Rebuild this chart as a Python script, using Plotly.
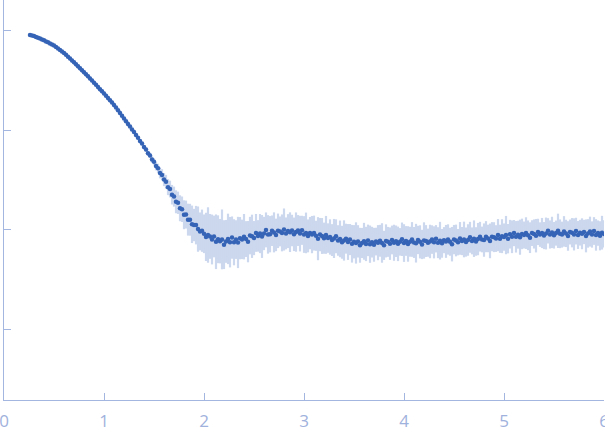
import numpy as np
import plotly.graph_objects as go

# scattering vector grid (uniform sampling, 0.02 step)
q_start = 0.26
q_step = 0.02
n_points = 288
q = np.round(q_start + q_step * np.arange(n_points), 3)

# log10 intensity
log_I = [
    -0.047, -0.052, -0.058, -0.066, -0.075, -0.083, -0.092, -0.100, -0.111, -0.121,
    -0.132, -0.142, -0.153, -0.168, -0.183, -0.198, -0.213, -0.228, -0.246, -0.265,
    -0.283, -0.302, -0.320, -0.340, -0.360, -0.380, -0.400, -0.420, -0.441, -0.462,
    -0.483, -0.504, -0.525, -0.547, -0.568, -0.590, -0.611, -0.633, -0.656, -0.679,
    -0.702, -0.725, -0.748, -0.775, -0.803, -0.830, -0.858, -0.885, -0.912, -0.939,
    -0.966, -0.994, -1.019, -1.051, -1.078, -1.111, -1.136, -1.171, -1.196, -1.233,
    -1.255, -1.297, -1.318, -1.362, -1.384, -1.430, -1.450, -1.497, -1.520, -1.573,
    -1.592, -1.649, -1.668, -1.720, -1.730, -1.785, -1.795, -1.850, -1.848, -1.899,
    -1.900, -1.946, -1.953, -1.954, -1.994, -2.017, -2.010, -2.041, -2.072, -2.053,
    -2.067, -2.098, -2.068, -2.121, -2.096, -2.115, -2.097, -2.150, -2.117, -2.092,
    -2.125, -2.079, -2.126, -2.099, -2.128, -2.085, -2.097, -2.070, -2.094, -2.120,
    -2.059, -2.066, -2.084, -2.032, -2.062, -2.039, -2.068, -2.038, -2.002, -2.047,
    -2.045, -2.010, -2.027, -2.052, -2.011, -2.017, -2.032, -1.998, -2.037, -2.014,
    -2.025, -2.008, -2.046, -2.024, -2.008, -2.039, -2.006, -2.048, -2.032, -2.062,
    -2.034, -2.049, -2.034, -2.061, -2.090, -2.049, -2.063, -2.085, -2.052, -2.084,
    -2.073, -2.104, -2.088, -2.066, -2.108, -2.092, -2.126, -2.108, -2.090, -2.123,
    -2.099, -2.141, -2.121, -2.133, -2.117, -2.156, -2.133, -2.116, -2.143, -2.107,
    -2.145, -2.125, -2.151, -2.119, -2.130, -2.111, -2.133, -2.157, -2.112, -2.122,
    -2.140, -2.103, -2.131, -2.116, -2.142, -2.122, -2.096, -2.134, -2.113, -2.143,
    -2.121, -2.098, -2.128, -2.135, -2.103, -2.122, -2.148, -2.108, -2.114, -2.130,
    -2.118, -2.099, -2.127, -2.091, -2.130, -2.110, -2.137, -2.105, -2.117, -2.098,
    -2.121, -2.145, -2.099, -2.108, -2.125, -2.087, -2.114, -2.098, -2.124, -2.103,
    -2.076, -2.112, -2.090, -2.118, -2.094, -2.070, -2.098, -2.104, -2.070, -2.088,
    -2.112, -2.070, -2.075, -2.089, -2.054, -2.091, -2.065, -2.074, -2.054, -2.090,
    -2.045, -2.071, -2.034, -2.071, -2.050, -2.075, -2.042, -2.053, -2.034, -2.056,
    -2.080, -2.034, -2.043, -2.060, -2.022, -2.049, -2.033, -2.059, -2.038, -2.011,
    -2.048, -2.027, -2.056, -2.034, -2.011, -2.041, -2.049, -2.017, -2.037, -2.063,
    -2.023, -2.030, -2.047, -2.014, -2.053, -2.030, -2.041, -2.023, -2.062, -2.037,
    -2.019, -2.048, -2.013, -2.052, -2.034, -2.061, -2.030, -2.042,
]

# uncertainty (half-width, log10 units)
log_err = [
    0.004, 0.004, 0.004, 0.004, 0.004, 0.004, 0.004, 0.004, 0.004, 0.004,
    0.004, 0.004, 0.004, 0.004, 0.004, 0.004, 0.004, 0.004, 0.004, 0.004,
    0.004, 0.004, 0.004, 0.004, 0.004, 0.004, 0.004, 0.004, 0.004, 0.004,
    0.004, 0.004, 0.004, 0.004, 0.004, 0.004, 0.004, 0.004, 0.004, 0.004,
    0.004, 0.004, 0.004, 0.004, 0.004, 0.004, 0.004, 0.004, 0.004, 0.004,
    0.005, 0.006, 0.008, 0.010, 0.012, 0.014, 0.016, 0.019, 0.022, 0.025,
    0.028, 0.034, 0.036, 0.043, 0.046, 0.055, 0.057, 0.066, 0.070, 0.080,
    0.084, 0.098, 0.100, 0.115, 0.112, 0.130, 0.128, 0.145, 0.140, 0.160,
    0.160, 0.188, 0.162, 0.193, 0.227, 0.190, 0.212, 0.194, 0.242, 0.278,
    0.225, 0.250, 0.209, 0.274, 0.240, 0.223, 0.300, 0.245, 0.215, 0.253,
    0.253, 0.212, 0.231, 0.194, 0.257, 0.212, 0.198, 0.228, 0.180, 0.207,
    0.188, 0.217, 0.171, 0.190, 0.158, 0.196, 0.215, 0.167, 0.175, 0.193,
    0.182, 0.153, 0.201, 0.163, 0.173, 0.150, 0.185, 0.211, 0.160, 0.170,
    0.199, 0.158, 0.168, 0.197, 0.155, 0.179, 0.146, 0.184, 0.204, 0.165,
    0.162, 0.187, 0.175, 0.151, 0.216, 0.167, 0.180, 0.156, 0.190, 0.148,
    0.177, 0.160, 0.196, 0.170, 0.153, 0.184, 0.165, 0.202, 0.150, 0.180,
    0.156, 0.189, 0.167, 0.207, 0.162, 0.175, 0.151, 0.185, 0.172, 0.158,
    0.187, 0.154, 0.170, 0.139, 0.176, 0.160, 0.198, 0.146, 0.166, 0.150,
    0.163, 0.144, 0.181, 0.158, 0.173, 0.138, 0.168, 0.189, 0.149, 0.178,
    0.150, 0.174, 0.155, 0.194, 0.142, 0.166, 0.147, 0.182, 0.160, 0.141,
    0.168, 0.143, 0.161, 0.137, 0.155, 0.189, 0.144, 0.131, 0.165, 0.152,
    0.140, 0.173, 0.147, 0.159, 0.132, 0.164, 0.141, 0.179, 0.146, 0.158,
    0.155, 0.135, 0.183, 0.143, 0.162, 0.149, 0.129, 0.167, 0.156, 0.138,
    0.174, 0.146, 0.150, 0.134, 0.161, 0.141, 0.170, 0.137, 0.192, 0.147,
    0.144, 0.164, 0.131, 0.158, 0.140, 0.176, 0.153, 0.135, 0.159, 0.149,
    0.154, 0.129, 0.146, 0.168, 0.132, 0.123, 0.151, 0.136, 0.160, 0.127,
    0.141, 0.157, 0.133, 0.126, 0.172, 0.144, 0.130, 0.153, 0.137, 0.148,
    0.125, 0.147, 0.161, 0.134, 0.140, 0.129, 0.155, 0.122, 0.165, 0.143,
    0.150, 0.132, 0.139, 0.158, 0.127, 0.146, 0.169, 0.136,
]

x_ticks = [0, 1, 2, 3, 4, 5, 6]

axis_col = "#a3b6df"
band_col = "#ccd8ee"
dot_col = "#3563b6"

fig = go.Figure()
fig.add_trace(go.Scatter(
    x=q, y=log_I, mode="markers",
    marker=dict(size=1, opacity=0),
    error_y=dict(type="data", array=log_err, symmetric=True,
                 color=band_col, thickness=2.2, width=0),
    hoverinfo="skip", showlegend=False,
))
fig.add_trace(go.Scatter(
    x=q, y=log_I, mode="markers",
    marker=dict(size=4.5, color=dot_col, line=dict(width=0)),
    showlegend=False,
))

fig.update_layout(
    width=605, height=437,
    margin=dict(l=4, r=1, t=0, b=37),
    plot_bgcolor="white", paper_bgcolor="white",
    showlegend=False,
)
fig.update_xaxes(
    range=[0, 6], tickvals=x_ticks, ticktext=[str(t) for t in x_ticks],
    ticks="inside", ticklen=7, tickcolor=axis_col, tickwidth=1,
    showline=True, linecolor=axis_col, linewidth=1,
    showgrid=False, zeroline=False, ticklabeloverflow="allow",
    automargin=False, ticklabelstandoff=6,
    tickfont=dict(family="Open Sans", size=17, color="#9fb2dd"),
)
fig.update_yaxes(
    range=[-3.708, 0.304], tick0=0, dtick=1,
    ticks="inside", ticklen=7, tickcolor=axis_col, tickwidth=1,
    showline=True, linecolor=axis_col, linewidth=1, automargin=False,
    showgrid=False, zeroline=False, showticklabels=False,
)

post_js = (
    "document.documentElement.style.overflow='hidden';"
    "document.body.style.margin='0';"
    "document.body.style.overflow='hidden';"
)

fig.write_html("out.html", config={"displayModeBar": False}, post_script=post_js)
